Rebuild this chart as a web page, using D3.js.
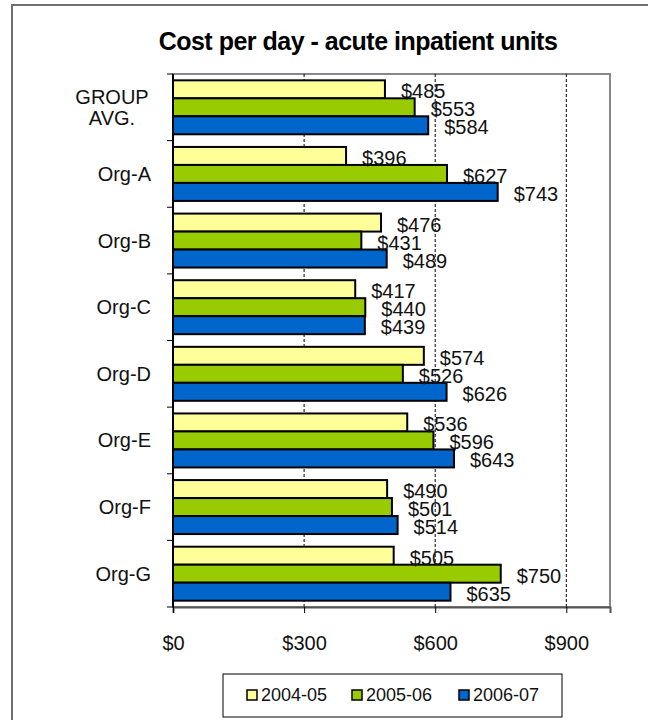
<!DOCTYPE html>
<html>
<head>
<meta charset="utf-8">
<script src="https://cdn.jsdelivr.net/npm/d3@7"></script>
<style>
  body { margin: 0; background: #fff; }
  text { font-family: "Liberation Sans", Arial, sans-serif; }
</style>
</head>
<body>
<script>
const categories = ["GROUP AVG.", "Org-A", "Org-B", "Org-C", "Org-D", "Org-E", "Org-F", "Org-G"];
const seriesNames = ["2004-05", "2005-06", "2006-07"];
const seriesColors = ["#ffff99", "#99cc00", "#0066cc"];
const values0405 = [485, 396, 476, 417, 574, 536, 490, 505];
const values0506 = [553, 627, 431, 440, 526, 596, 501, 750];
const values0607 = [584, 743, 489, 439, 626, 643, 514, 635];
const xTicks = [0, 300, 600, 900];

const width = 648, height = 720;
const plot = { left: 173, top: 74, right: 610, bottom: 607 };

const svg = d3.select("body").append("svg")
  .attr("width", width)
  .attr("height", height);

// outer chart frame (only left + top visible in reference)
svg.append("path")
  .attr("d", `M12,${height + 2}V5H${width + 2}`)
  .attr("fill", "none")
  .attr("stroke", "#707070")
  .attr("stroke-width", 2);

svg.append("text")
  .attr("x", 358).attr("y", 50)
  .attr("text-anchor", "middle")
  .attr("font-size", 25)
  .attr("font-weight", "bold")
  .attr("letter-spacing", -0.5)
  .text("Cost per day - acute inpatient units");

const x = d3.scaleLinear().domain([0, 1000]).range([plot.left, plot.right]);
const y = d3.scaleBand().domain(categories).range([plot.top, plot.bottom]).paddingInner(0.19).paddingOuter(0.095);
const ySub = d3.scaleBand().domain(seriesNames).range([0, y.bandwidth()]);

// plot area border
svg.append("rect")
  .attr("x", plot.left).attr("y", plot.top)
  .attr("width", plot.right - plot.left).attr("height", plot.bottom - plot.top)
  .attr("fill", "none").attr("stroke", "#888").attr("stroke-width", 2);

// dashed gridlines
svg.selectAll("line.grid")
  .data(xTicks.slice(1))
  .enter().append("line")
  .attr("class", "grid")
  .attr("x1", d => x(d)).attr("x2", d => x(d))
  .attr("y1", plot.top).attr("y2", plot.bottom)
  .attr("stroke", "#000").attr("stroke-width", 1)
  .attr("stroke-dasharray", "3,2");

const series = [values0405, values0506, values0607];
const rows = [];
categories.forEach((c, i) => {
  series.forEach((vals, s) => rows.push({ cat: c, name: seriesNames[s], color: seriesColors[s], v: vals[i] }));
});

svg.selectAll("rect.bar")
  .data(rows)
  .enter().append("rect")
  .attr("class", "bar")
  .attr("x", x(0))
  .attr("y", d => y(d.cat) + ySub(d.name))
  .attr("width", d => x(d.v) - x(0))
  .attr("height", ySub.bandwidth())
  .attr("fill", d => d.color)
  .attr("stroke", "#000")
  .attr("stroke-width", 2);

// value labels (they overlap in places, as in the original)
svg.selectAll("text.lbl")
  .data(rows)
  .enter().append("text")
  .attr("class", "lbl")
  .attr("x", d => x(d.v) + 16)
  .attr("y", d => y(d.cat) + ySub(d.name) + ySub.bandwidth() / 2 + 2)
  .attr("dy", "0.35em")
  .attr("font-size", 20)
  .attr("fill", "#111")
  .text(d => "$" + d.v);

// x axis
const xAxis = svg.append("g")
  .attr("transform", `translate(0,${plot.bottom})`)
  .call(d3.axisBottom(x).tickValues(xTicks).tickSize(6).tickFormat(d => "$" + d));
xAxis.select(".domain").attr("stroke", "#555").attr("stroke-width", 2);
xAxis.selectAll(".tick line").attr("stroke", "#000");
xAxis.selectAll(".tick text")
  .attr("font-size", 20).attr("font-family", "Liberation Sans, Arial, sans-serif")
  .attr("fill", "#111")
  .attr("y", 36).attr("dy", "0.35em");

// y axis: ticks at band boundaries
const yAxisG = svg.append("g");
yAxisG.append("line")
  .attr("x1", plot.left).attr("x2", plot.left)
  .attr("y1", plot.top).attr("y2", plot.bottom)
  .attr("stroke", "#000").attr("stroke-width", 2);
const step = y.step();
yAxisG.selectAll("line.tk")
  .data(d3.range(categories.length + 1))
  .enter().append("line")
  .attr("class", "tk")
  .attr("x1", plot.left - 6).attr("x2", plot.left)
  .attr("y1", i => plot.top + i * step).attr("y2", i => plot.top + i * step)
  .attr("stroke", "#000");

const catText = yAxisG.selectAll("text.cat")
  .data(categories)
  .enter().append("text")
  .attr("class", "cat")
  .attr("font-size", 20)
  .attr("fill", "#111")
  .attr("text-anchor", "middle");
catText.each(function (d) {
  const cy = y(d) + y.bandwidth() / 2;
  const parts = d === "GROUP AVG." ? ["GROUP", "AVG."] : [d];
  const t = d3.select(this);
  if (parts.length === 1) {
    t.attr("text-anchor", "end").attr("x", 151).attr("y", cy).attr("dy", "0.35em").text(d);
  } else {
    parts.forEach((p, k) => {
      t.append("tspan").attr("x", 112).attr("y", cy + (k - 0.5) * 21).attr("dy", "0.35em").text(p);
    });
  }
});

// legend
const lg = svg.append("g");
lg.append("rect")
  .attr("x", 223).attr("y", 674).attr("width", 339).attr("height", 43)
  .attr("fill", "#fff").attr("stroke", "#000").attr("stroke-width", 1);
const lx = [247, 352, 459];
const item = lg.selectAll("g.item")
  .data(seriesNames)
  .enter().append("g")
  .attr("transform", (d, i) => `translate(${lx[i]},695)`);
item.append("rect")
  .attr("x", 0).attr("y", -5).attr("width", 10).attr("height", 10)
  .attr("fill", (d, i) => seriesColors[i]).attr("stroke", "#000").attr("stroke-width", 1.5);
item.append("text")
  .attr("x", 14).attr("y", 0).attr("dy", "0.35em")
  .attr("font-size", 18)
  .attr("fill", "#111")
  .text(d => d);
</script>
</body>
</html>
